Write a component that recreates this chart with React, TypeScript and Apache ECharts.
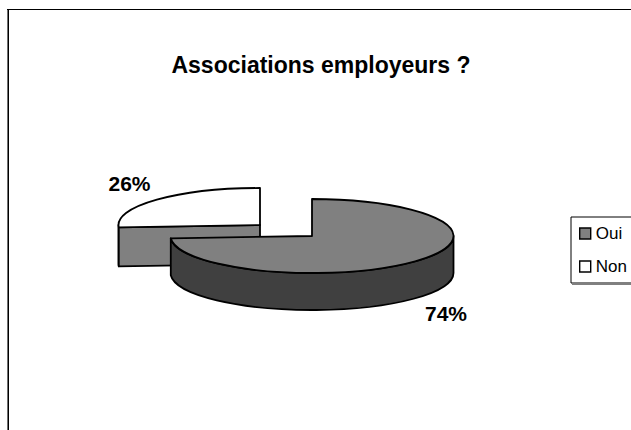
import React, { useEffect, useRef } from "react";
import * as echarts from "echarts";

const titleText = "Associations employeurs ?";
const categories = ["Oui", "Non"];
const shares = [74, 26];

const FONT = '"Liberation Sans", Arial, sans-serif';
const BLACK = "#000000";
const MID = "#808080";
const DARK = "#404040";

const RX = 141.5;
const RY = 37;

function pt(cx: number, cy: number, deg: number, dy = 0) {
  const r = (deg * Math.PI) / 180;
  return [cx + RX * Math.sin(r), cy - RY * Math.cos(r) + dy];
}
function arc(to: number[], large: boolean, clockwise: boolean) {
  return `A ${RX} ${RY} 0 ${large ? 1 : 0} ${clockwise ? 1 : 0} ${to[0]} ${to[1]}`;
}
const lineStyle = { stroke: BLACK, lineWidth: 1.8, lineJoin: "round" as const };

function sliceGroup(index: number, cx: number, cy: number, depth: number, topFill: string, labelX: number, labelY: number) {
  return (_params: any, api: any) => {
    const total = shares.reduce((a, b) => a + b, 0);
    const before = shares.slice(0, index).reduce((a, b) => a + b, 0);
    const start = (before / total) * 360;
    const end = start + (api.value(0) / total) * 360;
    const children: any[] = [];
    const s = pt(cx, cy, start);
    const e = pt(cx, cy, end);
    const large = end - start > 180;
    const fa = Math.max(start, 90);
    const fb = Math.min(end, 270);
    if (fb > fa) {
      const p0 = pt(cx, cy, fa);
      const p1 = pt(cx, cy, end >= 270 && end < 360 ? end : fb);
      const q1 = pt(cx, cy, end >= 270 && end < 360 ? end : fb, depth);
      const q0 = pt(cx, cy, fa, depth);
      children.push({
        type: "path",
        shape: { pathData: `M ${p0[0]} ${p0[1]} ${arc(p1, false, true)} L ${q1[0]} ${q1[1]} ${arc(q0, false, false)} Z` },
        style: { fill: DARK, ...lineStyle },
      });
    }
    if (start > 180) {
      const q = pt(cx, cy, start, depth);
      children.push({
        type: "polygon",
        shape: { points: [s, [cx, cy], [cx, cy + depth], q] },
        style: { fill: MID, ...lineStyle },
      });
    }
    children.push({
      type: "path",
      shape: { pathData: `M ${cx} ${cy} L ${s[0]} ${s[1]} ${arc(e, large, true)} Z` },
      style: { fill: topFill, ...lineStyle },
    });
    children.push({
      type: "text",
      x: labelX,
      y: labelY,
      style: {
        text: `${api.value(0)}%`,
        fontFamily: FONT,
        fontSize: 21,
        fontWeight: "bold",
        fill: BLACK,
        align: "center",
        verticalAlign: "middle",
      },
    });
    return { type: "group", children };
  };
}

export default function App() {
  const ref = useRef<HTMLDivElement>(null);
  useEffect(() => {
    const chart = echarts.init(ref.current!, null, { renderer: "svg" });
    chart.setOption({
      animation: false,
      backgroundColor: "#ffffff",
      title: {
        text: titleText,
        left: 321,
        top: 53,
        textAlign: "center",
        padding: 0,
        textStyle: { fontFamily: FONT, fontSize: 23, fontWeight: "bold", color: BLACK },
      },
      legend: {
        orient: "vertical",
        left: 571,
        top: 217,
        padding: [7, 30, 7, 8],
        itemWidth: 11,
        itemHeight: 11,
        itemGap: 14,
        borderColor: BLACK,
        borderWidth: 1,
        backgroundColor: "#ffffff",
        textStyle: { fontFamily: FONT, fontSize: 17, color: BLACK, padding: [0, 0, 2, 0], lineHeight: 17 },
        data: [
          { name: categories[0], icon: "rect", itemStyle: { color: MID, borderColor: BLACK, borderWidth: 1.4 } },
          { name: categories[1], icon: "rect", itemStyle: { color: "#ffffff", borderColor: BLACK, borderWidth: 1.4 } },
        ],
      },
      graphic: [
        { type: "line", silent: true, shape: { x1: 7.5, y1: 9, x2: 7.5, y2: 430 }, style: { stroke: "#707070", lineWidth: 1 } },
        { type: "line", silent: true, shape: { x1: 8.5, y1: 9, x2: 8.5, y2: 430 }, style: { stroke: BLACK, lineWidth: 1 } },
        { type: "line", silent: true, shape: { x1: 7, y1: 9.5, x2: 631, y2: 9.5 }, style: { stroke: BLACK, lineWidth: 1 } },
        { type: "line", silent: true, shape: { x1: 572, y1: 284.5, x2: 631, y2: 284.5 }, style: { stroke: "#808080", lineWidth: 1 } },
      ],
      series: [
        {
          type: "custom",
          name: categories[0],
          coordinateSystem: "none",
          z: 3,
          itemStyle: { color: MID },
          renderItem: sliceGroup(0, 312, 236, 37, MID, 446, 313.5),
          data: [[shares[0]]],
        },
        {
          type: "custom",
          name: categories[1],
          coordinateSystem: "none",
          z: 2,
          itemStyle: { color: "#ffffff" },
          renderItem: sliceGroup(1, 260, 225, 39, "#ffffff", 129.5, 183),
          data: [[shares[1]]],
        },
      ],
    });
    return () => chart.dispose();
  }, []);
  return <div ref={ref} style={{ position: "absolute", left: 0, top: 0, width: 631, height: 430 }} />;
}
